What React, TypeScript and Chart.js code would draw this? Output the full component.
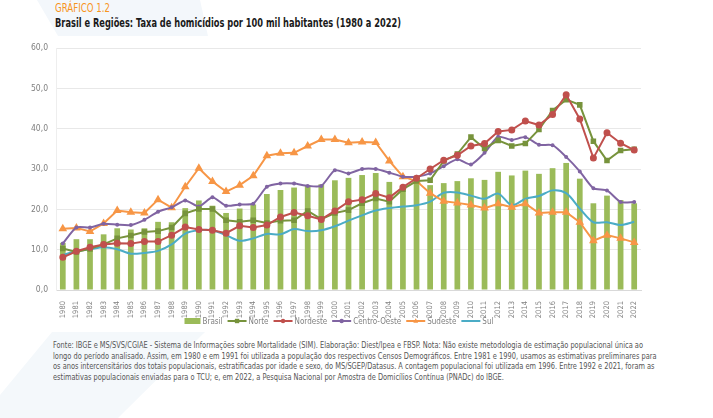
import React, { useEffect, useRef } from 'react';
import { Chart, registerables } from 'chart.js';

Chart.register(...registerables);

const FONT = "'Liberation Sans Narrow', 'DejaVu Sans Condensed', 'Arial Narrow', sans-serif";

const years = [
  '1980', '1981', '1982', '1983', '1984', '1985', '1986', '1987', '1988', '1989',
  '1990', '1991', '1992', '1993', '1994', '1995', '1996', '1997', '1998', '1999',
  '2000', '2001', '2002', '2003', '2004', '2005', '2006', '2007', '2008', '2009',
  '2010', '2011', '2012', '2013', '2014', '2015', '2016', '2017', '2018', '2019',
  '2020', '2021', '2022',
];

const brasil = [
  11.7, 12.6, 12.6, 13.8, 15.3, 15.0, 15.3, 16.9, 16.8, 20.3,
  22.2, 20.9, 19.1, 20.2, 21.2, 23.8, 24.8, 25.4, 25.9, 26.2,
  27.2, 27.8, 28.5, 29.0, 26.8, 26.0, 26.6, 26.0, 26.5, 27.0,
  27.7, 27.3, 29.3, 28.4, 29.6, 28.8, 30.2, 31.5, 27.6, 21.5,
  23.4, 22.3, 21.5,
];

const norte = [
  10.3, 9.4, 10.2, 11.3, 12.8, 13.5, 14.4, 14.6, 15.5, 19.0,
  20.1, 20.1, 17.3, 16.9, 17.3, 16.6, 17.2, 17.3, 19.6, 17.6,
  19.1, 19.8, 21.5, 22.7, 21.9, 25.0, 27.0, 27.2, 32.0, 33.7,
  37.9, 35.1, 37.1, 35.7, 36.3, 39.8, 44.5, 47.2, 45.9, 36.9,
  32.1, 34.6, 34.9,
];

const nordeste = [
  8.1, 9.6, 10.6, 11.3, 11.6, 11.5, 12.0, 12.0, 13.6, 15.6,
  15.0, 14.8, 14.1, 15.9, 15.5, 16.1, 18.1, 19.2, 18.4, 17.5,
  19.6, 21.9, 22.4, 23.9, 22.9, 25.5, 27.7, 30.0, 32.2, 33.4,
  35.7, 36.3, 39.3, 39.7, 41.9, 40.9, 43.5, 48.4, 42.4, 32.7,
  39.0, 36.4, 34.7,
];

const centroOeste = [
  11.5, 15.5, 15.5, 16.4, 16.2, 16.1, 17.4, 19.4, 20.5, 22.2,
  20.7, 23.0, 20.9, 21.2, 21.4, 25.6, 26.4, 26.4, 25.8, 25.8,
  29.7, 28.9, 30.0, 30.0, 29.1, 28.1, 28.1, 28.9, 30.7, 32.4,
  31.1, 34.0, 38.0, 37.2, 37.9, 36.0, 35.9, 33.0, 29.4, 25.2,
  24.7, 21.8, 21.8,
];

const sudeste = [
  15.2, 15.4, 14.5, 16.5, 19.7, 19.3, 19.1, 22.4, 20.4, 25.6,
  30.2, 26.9, 24.4, 26.0, 28.3, 33.3, 33.9, 34.0, 35.7, 37.3,
  37.3, 36.5, 36.7, 36.6, 32.0, 28.1, 27.0, 24.0, 22.0, 21.6,
  21.1, 20.3, 21.4, 20.5, 21.4, 19.1, 19.3, 19.3, 16.8, 12.2,
  13.6, 12.8, 11.8,
];

const sul = [
  8.7, 9.6, 10.1, 10.6, 10.1, 9.0, 9.2, 9.7, 11.3, 14.0,
  14.8, 14.8, 13.6, 12.2, 12.8, 13.9, 13.8, 15.1, 14.6, 14.8,
  15.8, 17.2, 18.5, 19.7, 20.3, 20.7, 21.0, 21.9, 24.1, 24.2,
  23.4, 22.6, 23.9, 21.0, 22.6, 23.3, 24.7, 24.0, 20.2, 16.8,
  16.8, 16.1, 16.9,
];

const footLines = [
  'Fonte: IBGE e MS/SVS/CGIAE - Sistema de Informações sobre Mortalidade (SIM). Elaboração: Diest/Ipea e FBSP. Nota: Não existe metodologia de estimação populacional única ao',
  'longo do período analisado. Assim, em 1980 e em 1991 foi utilizada a população dos respectivos Censos Demográficos. Entre 1981 e 1990, usamos as estimativas preliminares para',
  'os anos intercensitários dos totais populacionais, estratificadas por idade e sexo, do MS/SGEP/Datasus. A contagem populacional foi utilizada em 1996. Entre 1992 e 2021, foram as',
  'estimativas populacionais enviadas para o TCU; e, em 2022, a Pesquisa Nacional por Amostra de Domicílios Contínua (PNADc) do IBGE.',
];
const FOOT_FIRST_WIDTH = 590;

function drawMarker(ctx: CanvasRenderingContext2D, style: string, x: number, y: number, r: number, color: string) {
  ctx.fillStyle = color;
  ctx.beginPath();
  if (style === 'rect') {
    ctx.rect(x - r, y - r, r * 2, r * 2);
  } else if (style === 'circle') {
    ctx.arc(x, y, r, 0, Math.PI * 2);
  } else if (style === 'triangle') {
    ctx.moveTo(x, y - r * 1.2);
    ctx.lineTo(x + r * 1.1, y + r * 0.8);
    ctx.lineTo(x - r * 1.1, y + r * 0.8);
    ctx.closePath();
  } else {
    return;
  }
  ctx.fill();
}

export default function App() {
  const canvasRef = useRef<HTMLCanvasElement>(null);
  const rootRef = useRef<HTMLDivElement>(null);
  const footRef = useRef<HTMLDivElement>(null);

  useEffect(() => {
    document.body.style.margin = '0';
    const canvas = canvasRef.current!;

    const legendPlugin = {
      id: 'customLegend',
      afterDraw(chart: any) {
        const ctx: CanvasRenderingContext2D = chart.ctx;
        ctx.save();
        ctx.font = `8px ${FONT}`;
        ctx.textBaseline = 'middle';
        const dss = chart.data.datasets;
        const symW = 19;
        const gap = 2;
        const itemGap = 5;
        let total = 0;
        dss.forEach((ds: any, i: number) => {
          total += (ds.type === 'bar' ? 16 : symW) + gap + ctx.measureText(ds.label).width + (i < dss.length - 1 ? itemGap : 0);
        });
        let x = 339 - total / 2;
        const y = 291;
        dss.forEach((ds: any) => {
          let w = symW;
          if (ds.type === 'bar') {
            w = 16;
            ctx.fillStyle = ds.backgroundColor;
            ctx.fillRect(x, y - 3, 16, 6);
          } else {
            ctx.strokeStyle = ds.borderColor;
            ctx.lineWidth = 2;
            ctx.beginPath();
            ctx.moveTo(x, y);
            ctx.lineTo(x + symW, y);
            ctx.stroke();
            if (ds.pointRadius > 0) drawMarker(ctx, ds.pointStyle, x + symW / 2, y, 2.2, ds.borderColor);
          }
          x += w + gap;
          ctx.fillStyle = '#808080';
          ctx.fillText(ds.label, x, y + 0.5);
          x += ctx.measureText(ds.label).width + itemGap;
        });
        ctx.restore();
      },
    };

    const yFont = { family: FONT, size: 8.5 };
    const xFont = { family: FONT, size: 7.5 };

    const chart = new Chart(canvas, {
      type: 'bar',
      data: {
        labels: years,
        datasets: [
          { type: 'bar', label: 'Brasil', data: brasil, backgroundColor: '#9BBB59', order: 10, barPercentage: 0.42, categoryPercentage: 1 } as any,
          { type: 'line', label: 'Norte', data: norte, borderColor: '#77933C', backgroundColor: '#77933C', borderWidth: 2, pointStyle: 'rect', pointRadius: 2.5, order: 2 },
          { type: 'line', label: 'Nordeste', data: nordeste, borderColor: '#C0504D', backgroundColor: '#C0504D', borderWidth: 2, pointStyle: 'circle', pointRadius: 2.5, order: 1 },
          { type: 'line', label: 'Centro-Oeste', data: centroOeste, borderColor: '#8064A2', backgroundColor: '#8064A2', borderWidth: 2, pointStyle: 'circle', pointRadius: 1, tension: 0.2, order: 3 },
          { type: 'line', label: 'Sudeste', data: sudeste, borderColor: '#F79646', backgroundColor: '#F79646', borderWidth: 2, pointStyle: 'triangle', pointRadius: 3, order: 4 },
          { type: 'line', label: 'Sul', data: sul, borderColor: '#4BACC6', backgroundColor: '#4BACC6', borderWidth: 2, pointRadius: 0, tension: 0.3, order: 5 },
        ],
      },
      options: {
        responsive: false,
        animation: false,
        events: [],
        layout: { padding: { top: 18, right: 72, bottom: 10, left: 0 } },
        plugins: {
          legend: { display: false },
          tooltip: { enabled: false },
          title: { display: false },
        },
        scales: {
          x: {
            grid: { display: false },
            border: { color: '#d9d9d9' },
            ticks: { font: xFont, color: '#808080', minRotation: 90, maxRotation: 90, autoSkip: false, padding: 3 },
            afterFit: (s: any) => { s.height = 30; },
          },
          y: {
            min: 0,
            max: 60,
            ticks: {
              stepSize: 10,
              font: yFont,
              color: '#808080',
              padding: 8,
              callback: (v: any) => Number(v).toFixed(1).replace('.', ','),
            },
            grid: { color: '#e8e8e8', drawTicks: false },
            border: { display: true, color: '#eeeeee' },
            afterFit: (s: any) => { s.width = 56; },
          },
        },
      },
      plugins: [legendPlugin],
    });

    const root = rootRef.current!;
    root.querySelectorAll<HTMLElement>('[data-w]').forEach((el) => {
      const target = Number(el.dataset.w);
      const w = el.getBoundingClientRect().width;
      if (w > 0) el.style.transform = `scaleX(${target / w})`;
    });

    const foot = footRef.current!;
    const spans = Array.from(foot.querySelectorAll<HTMLElement>('span'));
    const w0 = spans[0].getBoundingClientRect().width;
    if (w0 > 0) {
      const sc = FOOT_FIRST_WIDTH / w0;
      spans.forEach((s) => { s.style.transform = `scaleX(${sc})`; });
    }

    return () => chart.destroy();
  }, []);

  const fit: React.CSSProperties = { display: 'inline-block', whiteSpace: 'nowrap', transformOrigin: 'left center' };

  return (
    <div ref={rootRef} style={{ position: 'relative', width: 713, height: 418, overflow: 'hidden', background: '#fff', fontFamily: FONT }}>
      <div style={{ position: 'absolute', inset: 0, background: '#f3f7fb', clipPath: 'polygon(37px 0px, 200px 0px, 208px 36px, 58px 36px)' }} />
      <div style={{ position: 'absolute', inset: 0, background: '#f4f8fb', clipPath: 'polygon(52px 332px, 205px 332px, 118px 418px, 0px 418px, 0px 395px)' }} />
      <div style={{ position: 'absolute', left: 55, top: 1, fontSize: 11.5, color: '#F7941D', lineHeight: '14px' }}>
        <span data-w="55" style={fit}>GRÁFICO 1.2</span>
      </div>
      <div style={{ position: 'absolute', left: 55, top: 15, fontSize: 12.5, fontWeight: 'bold', color: '#1a1a1a', lineHeight: '16px' }}>
        <span data-w="346" style={fit}>Brasil e Regiões: Taxa de homicídios por 100 mil habitantes (1980 a 2022)</span>
      </div>
      <canvas ref={canvasRef} width={713} height={300} style={{ position: 'absolute', left: 0, top: 30, width: 713, height: 300 }} />
      <div ref={footRef} style={{ position: 'absolute', left: 53, top: 340, fontSize: 8.5, color: '#555', lineHeight: '10.7px' }}>
        {footLines.map((t, i) => (
          <div key={i} style={{ height: '10.7px' }}>
            <span style={fit}>{t}</span>
          </div>
        ))}
      </div>
    </div>
  );
}
